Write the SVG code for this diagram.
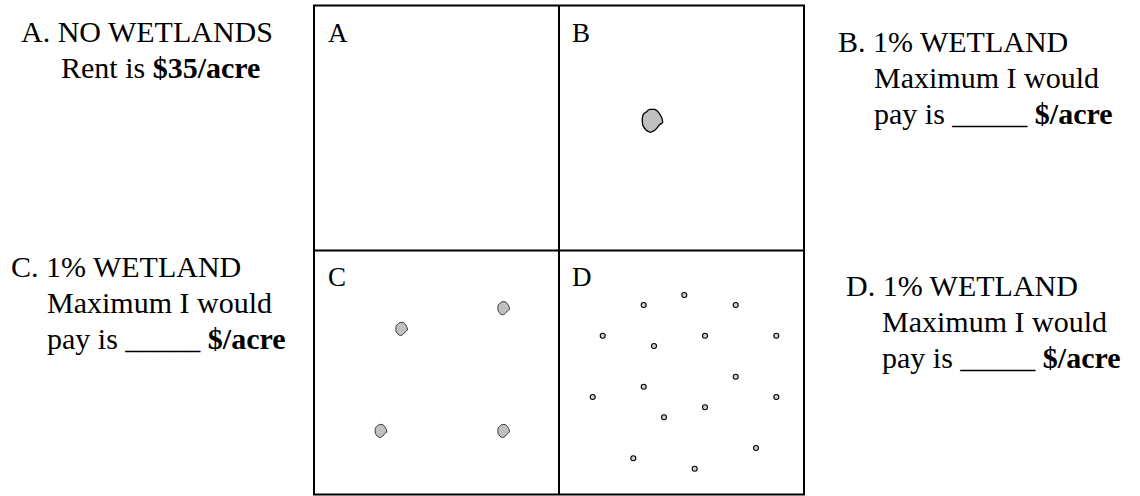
<svg xmlns="http://www.w3.org/2000/svg" xmlns:xlink="http://www.w3.org/1999/xlink" width="1140" height="496" viewBox="0 0 1140 496">
<style>
  .t { font-family: "Liberation Serif", "Times New Roman", serif; font-size: 30px; fill: #000; }
  .b { font-weight: bold; }
  .lbl { font-family: "Liberation Serif", "Times New Roman", serif; font-size: 27px; fill: #000; }
  .grid { fill: none; stroke: #000; stroke-width: 2; }
  .wet { fill: #c0c0c0; stroke: #000; stroke-width: 1.3; vector-effect: non-scaling-stroke; }
  .dot { fill: #d0d0d0; stroke: #000; stroke-width: 1.1; }
</style>
<defs>
  <path id="blob" d="M -5.8,-9.1 C -4.5,-11 -3.5,-11.5 -2.5,-11.5 L 2.5,-11.5 C 4.5,-10.5 5.8,-9 6.8,-7.5 C 8,-5.5 9,-4 9.5,-2.5 C 10,-0.5 10.2,1 10.2,1.9 C 8.5,2.8 7.5,3.2 6.8,4.2 C 5,6.5 4,8 2.5,9.2 C 0.5,11 -1,11.5 -2.5,11.5 C -4,10.8 -5.5,10.2 -6.5,9.2 C -8,7.5 -9.2,5.8 -9.8,4.2 C -10.3,1.5 -10.4,-0.5 -10.2,-2.5 C -10,-4 -9.8,-5.5 -9.2,-6.5 C -8,-7.8 -7,-8.3 -5.8,-9.1 Z"/>
</defs>

<g id="grid">
  <rect class="grid" x="314" y="5.5" width="490" height="489"/>
  <line class="grid" x1="559" y1="5.5" x2="559" y2="494.5"/>
  <line class="grid" x1="314" y1="250.5" x2="804" y2="250.5"/>
</g>

<g id="panel-A">
  <text class="lbl" x="328" y="42">A</text>
</g>

<g id="panel-B">
  <text class="lbl" x="572" y="42">B</text>
  <use xlink:href="#blob" href="#blob" class="wet" transform="translate(652.5,120.8)"/>
</g>

<g id="panel-C">
  <text class="lbl" x="328" y="286">C</text>
  <use xlink:href="#blob" href="#blob" class="wet" transform="translate(401.7,329) scale(0.57)"/>
  <use xlink:href="#blob" href="#blob" class="wet" transform="translate(503.7,308.3) scale(0.57)"/>
  <use xlink:href="#blob" href="#blob" class="wet" transform="translate(381,431) scale(0.57)"/>
  <use xlink:href="#blob" href="#blob" class="wet" transform="translate(503.7,431) scale(0.57)"/>
</g>

<g id="panel-D">
  <text class="lbl" x="572" y="286">D</text>
  <circle class="dot" cx="684.3" cy="295" r="2.5"/>
  <circle class="dot" cx="643.7" cy="305" r="2.5"/>
  <circle class="dot" cx="735.7" cy="305" r="2.5"/>
  <circle class="dot" cx="602.7" cy="335.7" r="2.5"/>
  <circle class="dot" cx="705" cy="335.7" r="2.5"/>
  <circle class="dot" cx="776.3" cy="335.7" r="2.5"/>
  <circle class="dot" cx="654" cy="346" r="2.5"/>
  <circle class="dot" cx="735.7" cy="376.7" r="2.5"/>
  <circle class="dot" cx="643.7" cy="386.7" r="2.5"/>
  <circle class="dot" cx="592.7" cy="397" r="2.5"/>
  <circle class="dot" cx="776.3" cy="397" r="2.5"/>
  <circle class="dot" cx="705" cy="407.3" r="2.5"/>
  <circle class="dot" cx="664" cy="417.3" r="2.5"/>
  <circle class="dot" cx="756" cy="448" r="2.5"/>
  <circle class="dot" cx="633.3" cy="458.3" r="2.5"/>
  <circle class="dot" cx="694.7" cy="468.7" r="2.5"/>
</g>

<g id="text-A">
  <text class="t" x="21" y="42">A. NO WETLANDS</text>
  <text class="t" x="61" y="78">Rent is <tspan class="b">$35/acre</tspan></text>
</g>

<g id="text-B">
  <text class="t" x="838" y="52">B. 1% WETLAND</text>
  <text class="t" x="874" y="88">Maximum I would</text>
  <text class="t" x="874" y="124">pay is _____ <tspan class="b">$/acre</tspan></text>
</g>

<g id="text-C">
  <text class="t" x="11" y="277">C. 1% WETLAND</text>
  <text class="t" x="47" y="313">Maximum I would</text>
  <text class="t" x="47" y="349">pay is _____ <tspan class="b">$/acre</tspan></text>
</g>

<g id="text-D">
  <text class="t" x="846" y="296">D. 1% WETLAND</text>
  <text class="t" x="882" y="332">Maximum I would</text>
  <text class="t" x="882" y="368">pay is _____ <tspan class="b">$/acre</tspan></text>
</g>
</svg>
